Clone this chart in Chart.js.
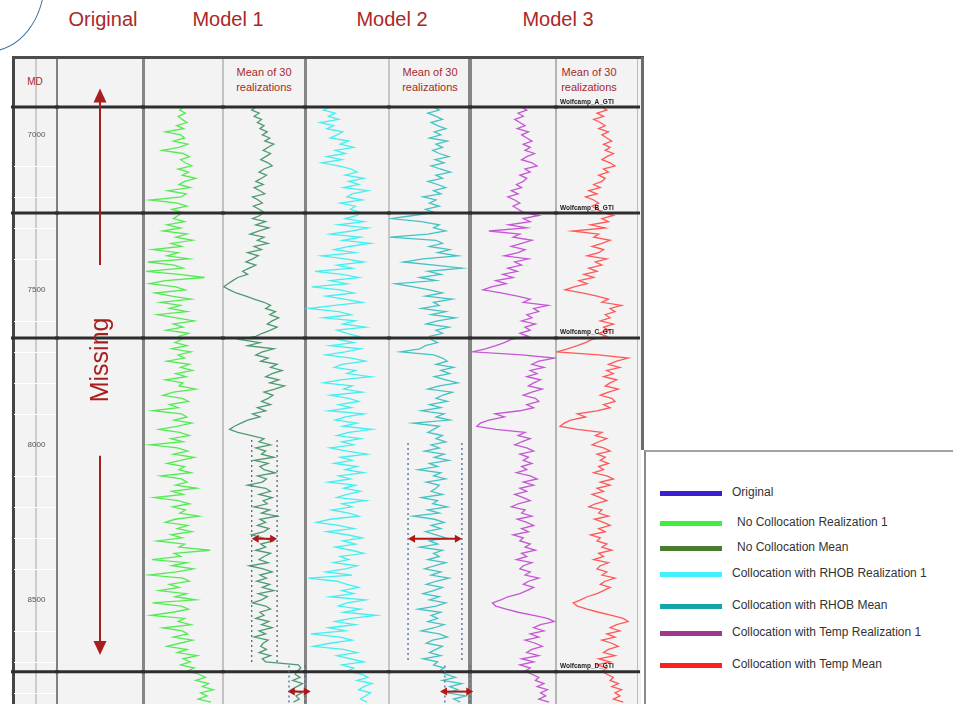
<!DOCTYPE html>
<html>
<head>
<meta charset="utf-8">
<script src="https://cdn.jsdelivr.net/npm/chart.js@4.4.1/dist/chart.umd.min.js"></script>
<style>
  body { margin: 0; width: 953px; height: 704px; overflow: hidden; background: #fff; position: relative; font-family: "Liberation Sans", Arial, sans-serif; }
  canvas { position: absolute; }
  .title { position: absolute; top: 9px; font-size: 20px; line-height: 20px; color: #aa2828; transform: translateX(-50%); white-space: nowrap; }
  .hdr { position: absolute; top: 65px; font-size: 11px; line-height: 14.5px; color: #aa2828; text-align: center; transform: translateX(-50%); white-space: nowrap; }
  .bar { position: absolute; }
  #arc { position: absolute; left: -69px; top: -92px; width: 114px; height: 144px; border: 1.5px solid #41719c; border-radius: 50%; box-sizing: border-box; }
  #legend { position: absolute; left: 644px; top: 450px; width: 309px; height: 254px; background: #fff; border-top: 2px solid #a3a3a3; border-left: 2px solid #8a8a8a; box-sizing: border-box; }
  .lg-sw { position: absolute; left: 14px; width: 62px; height: 5px; }
  .lg-tx { position: absolute; font-size: 12px; line-height: 14px; color: #333; white-space: nowrap; }
</style>
</head>
<body>
<div id="arc"></div>
<div id="legend"></div>
<script>
// ---- data ----
const depthTop = 6910, depthBottom = 8836, depthStep = 10;
const depthLabels = [7000, 7500, 8000, 8500];
const topNames = ["Wolfcamp_A_GTI", "Wolfcamp_B_GTI", "Wolfcamp_C_GTI", "Wolfcamp_D_GTI"];
const topDepths = [6910, 7252, 7655, 8732];

const modelTitles = ["Original", "Model 1", "Model 2", "Model 3"];
const seriesNames = ["Original", "No Collocation Realization 1", "No Collocation Mean",
  "Collocation with RHOB Realization 1", "Collocation with RHOB Mean",
  "Collocation with Temp Realization 1", "Collocation with Temp Mean"];

// curve values, one every 10 ft from 6910 ft (0-100 across the track)
const original = []; // missing interval
const m1Real = [
  50, 46, 53, 44, 49, 55, 42, 51, 28, 47, 52, 38, 56, 45, 24, 50, 58, 47, 53, 61,
  44, 57, 49, 66, 52, 45, 59, 31, 54, 48, 9, 43, 55, 36, 50,
  44, 38, 52, 30, 47, 25, 55, 41, 62, 35, 48, 12, 44, 30, 58, 6, 39, 50, 4, 45,
  77, 28, 8, 41, 53, 15, 36, 60, 22, 47, 33, 55, 18, 42, 64, 38, 50, 29, 57, 45,
  48, 40, 55, 36, 60, 44, 52, 30, 58, 47, 62, 41, 54, 28, 50, 45, 66, 38, 25, 49,
  57, 33, 44, 12, 48, 55, 39, 61, 42, 20, 46, 58, 35, 50, 9, 43, 56, 38, 64, 47,
  30, 52, 45, 60, 22, 48, 55, 41, 67, 36, 50, 14, 44, 58, 37, 53, 46, 70, 40, 28,
  56, 43, 61, 35, 49, 18, 52, 45, 84, 39, 47, 11, 55, 36, 63, 42, 8, 50, 58, 33,
  45, 20, 54, 40, 66, 12, 48, 57, 37, 10, 52, 44, 60, 25, 49, 56, 38, 62, 46, 30,
  55, 43, 68, 50, 59, 47, 64, 55,
  70, 78, 66, 82, 74, 88, 72, 80, 69, 85];
const m1Mean = [
  40, 35, 44, 38, 47, 42, 50, 45, 54, 48, 57, 51, 62, 55, 49, 58, 52, 46, 55, 60,
  50, 44, 53, 47, 40, 49, 38, 45, 51, 36, 43, 48, 37, 44, 50,
  45, 36, 52, 40, 56, 44, 33, 50, 42, 55, 38, 47, 30, 43, 36, 28, 40, 32, 24, 30,
  18, 12, 6, 1, 8, 16, 28, 38, 50, 58, 52, 64, 57, 68, 60, 54, 66, 58, 48, 40,
  20, 45, 30, 62, 48, 40, 55, 46, 66, 58, 72, 60, 52, 68, 57, 75, 63, 50, 61, 55,
  47, 58, 42, 52, 36, 45, 30, 22, 14, 8, 18, 35, 50, 44, 58, 40, 52, 47, 62, 38,
  55, 45, 50, 64, 42, 53, 48, 30, 52, 58, 44, 60, 49, 54, 38, 57, 47, 66, 45, 52,
  42, 56, 50, 35, 48, 61, 46, 52, 40, 58, 50, 44, 55, 32, 49, 60, 45, 53, 41, 57,
  48, 62, 43, 54, 47, 36, 52, 58, 45, 50, 40, 56, 47, 60, 44, 52, 38, 55, 49, 46,
  53, 44, 58, 48, 52, 92, 95, 90,
  88, 94, 85, 97, 90, 83, 96, 89, 93, 86];
const m2Real = [
  30, 22, 36, 28, 40, 18, 34, 26, 45, 38, 30, 52, 42, 58, 36, 48, 26, 44, 20, 40,
  55, 62, 48, 70, 52, 64, 46, 75, 56, 50, 68, 42, 60, 54, 66,
  62, 48, 70, 40, 75, 55, 30, 66, 45, 78, 52, 35, 60, 20, 48, 70, 38, 56, 12, 44,
  64, 30, 50, 8, 42, 58, 25, 47, 68, 35, 4, 40, 55, 22, 60, 45, 72, 38, 50, 64,
  40, 58, 30, 66, 48, 25, 55, 72, 44, 35, 60, 50, 78, 42, 22, 56, 46, 68, 30, 52,
  64, 40, 55, 28, 70, 48, 36, 62, 45, 80, 52, 38, 66, 44, 58, 30, 50, 74, 42, 56,
  35, 62, 48, 70, 40, 54, 28, 60, 46, 66, 50, 38, 72, 44, 56, 32, 52, 64, 30, 14,
  40, 58, 26, 50, 68, 45, 60, 36, 55, 70, 42, 52, 34, 62, 48, 25, 56, 4, 38, 50,
  64, 44, 58, 30, 72, 50, 40, 66, 46, 85, 55, 36, 60, 28, 48, 7, 42, 56, 30, 10,
  46, 62, 38, 54, 70, 44, 58, 50,
  68, 75, 62, 80, 70, 64, 78, 72, 66, 74];
const m2Mean = [
  55, 62, 48, 58, 66, 52, 60, 70, 56, 64, 50, 72, 58, 66, 54, 62, 74, 57, 68, 52,
  63, 76, 58, 66, 48, 60, 70, 55, 64, 42, 58, 50, 62, 45, 56,
  30, 2, 40, 62, 55, 70, 48, 1, 58, 66, 50, 75, 60, 85, 42, 18, 56, 90, 48, 64,
  38, 58, 8, 30, 50, 66, 45, 78, 55, 62, 40, 70, 52, 82, 60, 46, 74, 58, 66, 50,
  52, 60, 45, 38, 14, 55, 66, 72, 58, 80, 64, 75, 56, 70, 85, 62, 48, 78, 66, 58,
  72, 50, 64, 40, 68, 58, 75, 30, 62, 55, 48, 66, 58, 70, 52, 62, 44, 68, 56, 74,
  50, 60, 36, 64, 55, 70, 46, 62, 58, 52, 66, 40, 60, 54, 72, 48, 62, 30, 56, 68,
  52, 64, 45, 58, 70, 50, 60, 38, 66, 55, 62, 48, 70, 56, 44, 64, 52, 74, 58, 46,
  66, 55, 42, 62, 50, 70, 58, 36, 64, 52, 60, 48, 68, 56, 40, 62, 72, 54, 46, 66,
  58, 50, 64, 42, 60, 55, 68, 62,
  70, 82, 66, 90, 75, 85, 72, 95, 80, 88];
const m3Real = [
  60, 66, 56, 62, 52, 58, 64, 55, 68, 60, 66, 72, 62, 70, 64, 75, 66, 60, 72, 78,
  64, 70, 58, 66, 62, 54, 60, 48, 56, 44, 52, 58, 50, 56, 62,
  80, 62, 70, 45, 66, 22, 58, 50, 72, 60, 48, 64, 56, 40, 68, 52, 60, 44, 55, 38,
  50, 30, 42, 25, 15, 36, 55, 70, 62, 91, 74, 80, 66, 72, 60, 76, 64, 70, 58, 68,
  48, 40, 30, 18, 3, 60, 98, 80, 72, 86, 70, 78, 66, 82, 74, 68, 84, 72, 62, 76,
  80, 66, 74, 58, 29, 40, 22, 12, 8, 30, 64, 56, 70, 60, 52, 66, 74, 58, 68, 62,
  72, 60, 66, 54, 70, 78, 62, 74, 58, 66, 52, 62, 70, 56, 48, 64, 60, 72, 55, 66,
  74, 60, 68, 50, 62, 58, 70, 64, 76, 60, 66, 54, 72, 62, 58, 70, 64, 80, 68, 62,
  74, 66, 58, 44, 36, 26, 30, 42, 56, 74, 90, 98, 82, 74, 86, 70, 80, 64, 76, 84,
  72, 66, 80, 60, 74, 58, 70, 64,
  72, 80, 76, 86, 78, 90, 82, 88, 80, 92];
const m3Mean = [
  56, 62, 50, 58, 46, 54, 60, 52, 64, 56, 62, 68, 58, 66, 60, 70, 62, 56, 66, 72,
  58, 64, 52, 60, 56, 46, 54, 40, 50, 36, 46, 52, 44, 50, 56,
  70, 56, 64, 42, 60, 20, 52, 46, 66, 56, 44, 58, 52, 38, 62, 48, 56, 40, 50, 34,
  46, 28, 38, 22, 11, 32, 50, 64, 56, 80, 66, 72, 60, 66, 54, 70, 58, 64, 52, 62,
  44, 36, 26, 14, 1, 52, 88, 74, 64, 78, 62, 70, 58, 74, 66, 60, 76, 64, 54, 68,
  72, 58, 66, 50, 26, 36, 18, 10, 5, 26, 56, 48, 62, 52, 44, 58, 66, 50, 60, 54,
  64, 52, 58, 46, 62, 70, 54, 66, 50, 58, 44, 54, 62, 48, 40, 56, 52, 64, 47, 58,
  66, 52, 60, 42, 54, 50, 62, 56, 68, 52, 58, 46, 64, 54, 50, 62, 56, 72, 60, 54,
  66, 58, 50, 38, 30, 21, 26, 38, 52, 68, 82, 88, 74, 66, 78, 62, 72, 56, 68, 76,
  64, 58, 72, 52, 66, 50, 62, 56,
  62, 70, 66, 76, 68, 80, 72, 78, 70, 82];

// windows marked on the mean tracks (track % and depth)
const m1Windows = [
  { left: 35, right: 66, top: 7984, bottom: 8704, arrowDepth: 8303, arrowLeft: 35, arrowRight: 66 },
  { left: 80.5, right: 100, top: 8712, bottom: 8836, arrowDepth: 8796, arrowLeft: 79, arrowRight: 107 }];
const m2Windows = [
  { left: 23.5, right: 90, top: 7994, bottom: 8700, arrowDepth: 8303, arrowLeft: 23.5, arrowRight: 90 },
  { left: 69, right: 100, top: 8712, bottom: 8836, arrowDepth: 8796, arrowLeft: 63, arrowRight: 104 }];
const missingMarks = { upTip: 6850, upEnd: 7420, downStart: 8035, downTip: 8678, labelDepth: 7726 };

// ---- styles / layout ----
const legendColors = ["#3a1fd0", "#3ef03e", "#4b7b2f", "#44f0ff", "#15a5a8", "#a2378f", "#ff1f1f"];
const legendRows = [41, 71, 96, 122, 154, 181, 213];
const legendIndent = [0, 5, 5, 0, 0, 0, 0];
const titleCenters = [103, 228, 392, 558];
const margin = 10;
const frameTop = 57, frameHeight = 647;
const red = "#a81e1e";

const bars = [
  [12, 3, "#454545"], [35, 2, "#cbcbcb"], [56, 2, "#808080"], [142, 3, "#868686"],
  [222, 2, "#c2c2c2"], [304, 3, "#868686"], [388, 2, "#c6c6c6"], [468, 4, "#868686"],
  [555, 2, "#b5b5b5"], [637, 1, "#bdbdbd"]];

// frame
const frame = document.createElement("div");
frame.className = "bar";
Object.assign(frame.style, { left: "13px", top: frameTop + "px", width: "628px", height: frameHeight + "px", background: "#f3f3f3" });
document.body.appendChild(frame);
bars.forEach(([x, w, c]) => {
  const d = document.createElement("div");
  d.className = "bar";
  Object.assign(d.style, { left: x + "px", top: frameTop + "px", width: w + "px", height: frameHeight + "px", background: c });
  document.body.appendChild(d);
});
[[12, 56, 632, 3, "#4d4d4d"], [641, 57, 3, 393, "#6c6c6c"]].forEach(([x, y, w, h, c]) => {
  const d = document.createElement("div");
  d.className = "bar";
  Object.assign(d.style, { left: x + "px", top: y + "px", width: w + "px", height: h + "px", background: c });
  document.body.appendChild(d);
});

// titles & header labels
modelTitles.forEach((t, i) => {
  const d = document.createElement("div");
  d.className = "title"; d.textContent = t; d.style.left = titleCenters[i] + "px";
  document.body.appendChild(d);
});
[264, 430, 589].forEach(x => {
  const d = document.createElement("div");
  d.className = "hdr"; d.innerHTML = "Mean of 30<br>realizations"; d.style.left = x + "px";
  document.body.appendChild(d);
});
const md = document.createElement("div");
md.className = "hdr"; md.textContent = "MD";
Object.assign(md.style, { left: "35px", top: "75px", fontSize: "10px" });
document.body.appendChild(md);

// legend
const legend = document.getElementById("legend");
seriesNames.forEach((name, i) => {
  const sw = document.createElement("div");
  sw.className = "lg-sw";
  sw.style.top = (legendRows[i] - 2.5) + "px";
  sw.style.background = legendColors[i];
  legend.appendChild(sw);
  const tx = document.createElement("div");
  tx.className = "lg-tx";
  tx.textContent = name;
  tx.style.left = (86 + legendIndent[i]) + "px";
  tx.style.top = (legendRows[i] - 8) + "px";
  legend.appendChild(tx);
});

// ---- charts ----
const depths = m1Real.map((_, i) => depthTop + i * depthStep);

function makeCanvas(left, right) {
  const c = document.createElement("canvas");
  c.width = right - left + 2 * margin;
  c.height = frameHeight;
  c.style.left = (left - margin) + "px";
  c.style.top = frameTop + "px";
  document.body.appendChild(c);
  return c.getContext("2d");
}

function baseOptions() {
  return {
    responsive: false, animation: false, indexAxis: "y", events: [],
    layout: { padding: { top: 50, left: margin, right: margin, bottom: 0 } },
    plugins: { legend: { display: false }, tooltip: { enabled: false } },
    scales: {
      x: { type: "linear", display: false, min: 0, max: 100 },
      y: { type: "linear", display: false, reverse: true, min: depthTop, max: depthBottom }
    }
  };
}

// formation tops across every track
const topsPlugin = {
  id: "tops",
  afterDatasetsDraw(chart) {
    const { ctx, chartArea: a, scales: { y } } = chart;
    ctx.save();
    ctx.strokeStyle = "#2d2d2d";
    ctx.lineWidth = 3;
    topDepths.forEach(d => {
      const py = y.getPixelForValue(d);
      ctx.beginPath(); ctx.moveTo(a.left - 2, py); ctx.lineTo(a.right + 2, py); ctx.stroke();
    });
    ctx.restore();
  }
};

const topLabelsPlugin = {
  id: "topLabels",
  afterDraw(chart) {
    const { ctx, chartArea: a, scales: { y } } = chart;
    ctx.save();
    ctx.font = "bold 6.5px 'Liberation Sans'";
    ctx.fillStyle = "#1a1a1a";
    ctx.textBaseline = "bottom";
    topNames.forEach((n, i) => ctx.fillText(n, a.left + 4, y.getPixelForValue(topDepths[i]) - 2));
    ctx.restore();
  }
};

// depth grid and labels in the MD column
const depthAxisPlugin = {
  id: "depthAxis",
  beforeDatasetsDraw(chart) {
    const { ctx, chartArea: a, scales: { y } } = chart;
    ctx.save();
    ctx.strokeStyle = "#ffffff";
    ctx.lineWidth = 1;
    for (let d = 7000; d < depthBottom; d += 100) {
      if (depthLabels.includes(d)) continue;
      const py = Math.round(y.getPixelForValue(d)) + 0.5;
      ctx.beginPath(); ctx.moveTo(a.left + 1, py); ctx.lineTo(a.right - 1, py); ctx.stroke();
    }
    ctx.font = "8px 'Liberation Sans'";
    ctx.fillStyle = "#555";
    ctx.textAlign = "center";
    ctx.textBaseline = "middle";
    depthLabels.forEach(d => ctx.fillText(String(d), a.left + 23.5, y.getPixelForValue(d)));
    ctx.restore();
  }
};

function arrowHead(ctx, x, y, dx, dy, len, half) {
  ctx.beginPath();
  ctx.moveTo(x, y);
  ctx.lineTo(x - dx * len - dy * half, y - dy * len - dx * half);
  ctx.lineTo(x - dx * len + dy * half, y - dy * len + dx * half);
  ctx.closePath();
  ctx.fill();
}

function windowsPlugin(windows) {
  return {
    id: "windows",
    afterDraw(chart) {
      const { ctx, scales: { x, y } } = chart;
      ctx.save();
      windows.forEach(w => {
        ctx.strokeStyle = "#4d6b8f";
        ctx.lineWidth = 1.3;
        ctx.setLineDash([2, 3]);
        [w.left, w.right].forEach(v => {
          const px = x.getPixelForValue(v);
          ctx.beginPath(); ctx.moveTo(px, y.getPixelForValue(w.top)); ctx.lineTo(px, y.getPixelForValue(w.bottom)); ctx.stroke();
        });
        ctx.setLineDash([]);
        const ay = y.getPixelForValue(w.arrowDepth);
        const x1 = x.getPixelForValue(w.arrowLeft), x2 = x.getPixelForValue(w.arrowRight);
        ctx.strokeStyle = "#b01818"; ctx.fillStyle = "#b01818"; ctx.lineWidth = 2;
        ctx.beginPath(); ctx.moveTo(x1 + 4, ay); ctx.lineTo(x2 - 4, ay); ctx.stroke();
        arrowHead(ctx, x1, ay, -1, 0, 7, 4);
        arrowHead(ctx, x2, ay, 1, 0, 7, 4);
      });
      ctx.restore();
    }
  };
}

const missingPlugin = {
  id: "missing",
  afterDraw(chart) {
    const { ctx, chartArea: a, scales: { y } } = chart;
    const cx = (a.left + a.right) / 2;
    ctx.save();
    ctx.strokeStyle = red; ctx.fillStyle = red; ctx.lineWidth = 2;
    const t1 = y.getPixelForValue(missingMarks.upTip), e1 = y.getPixelForValue(missingMarks.upEnd);
    const s2 = y.getPixelForValue(missingMarks.downStart), t2 = y.getPixelForValue(missingMarks.downTip);
    ctx.beginPath(); ctx.moveTo(cx, t1 + 10); ctx.lineTo(cx, e1); ctx.stroke();
    arrowHead(ctx, cx, t1, 0, -1, 14, 6.5);
    ctx.beginPath(); ctx.moveTo(cx, s2); ctx.lineTo(cx, t2 - 10); ctx.stroke();
    arrowHead(ctx, cx, t2, 0, 1, 14, 6.5);
    ctx.translate(cx + 1, y.getPixelForValue(missingMarks.labelDepth));
    ctx.rotate(-Math.PI / 2);
    ctx.font = "25px 'Liberation Sans'";
    ctx.textAlign = "center"; ctx.textBaseline = "middle";
    ctx.fillText("Missing", 0, 0);
    ctx.restore();
  }
};

// MD column
new Chart(makeCanvas(13, 57), {
  type: "line",
  data: { datasets: [] },
  options: baseOptions(),
  plugins: [depthAxisPlugin, topsPlugin]
});

// Original (missing interval)
new Chart(makeCanvas(57, 143), {
  type: "line",
  data: { datasets: [{ label: seriesNames[0], data: original, borderColor: legendColors[0], pointRadius: 0 }] },
  options: baseOptions(),
  plugins: [topsPlugin, missingPlugin]
});

const tracks = [
  { left: 143, right: 223, name: seriesNames[1], values: m1Real, color: "#55ea55", plugins: [] },
  { left: 223, right: 305, name: seriesNames[2], values: m1Mean, color: "#4f9a72", plugins: [windowsPlugin(m1Windows)] },
  { left: 305, right: 389, name: seriesNames[3], values: m2Real, color: "#45efef", plugins: [] },
  { left: 389, right: 470, name: seriesNames[4], values: m2Mean, color: "#45c2c2", plugins: [windowsPlugin(m2Windows)] },
  { left: 470, right: 556, name: seriesNames[5], values: m3Real, color: "#c457d3", plugins: [] },
  { left: 556, right: 638, name: seriesNames[6], values: m3Mean, color: "#ff5858", plugins: [topLabelsPlugin] }
];

tracks.forEach(t => {
  new Chart(makeCanvas(t.left, t.right), {
    type: "line",
    data: {
      datasets: [{
        label: t.name,
        data: t.values.map((v, i) => ({ x: v, y: depths[i] })),
        borderColor: t.color,
        borderWidth: 1.3,
        pointRadius: 0,
        tension: 0,
        fill: false
      }]
    },
    options: baseOptions(),
    plugins: [topsPlugin].concat(t.plugins)
  });
});
</script>
</body>
</html>
